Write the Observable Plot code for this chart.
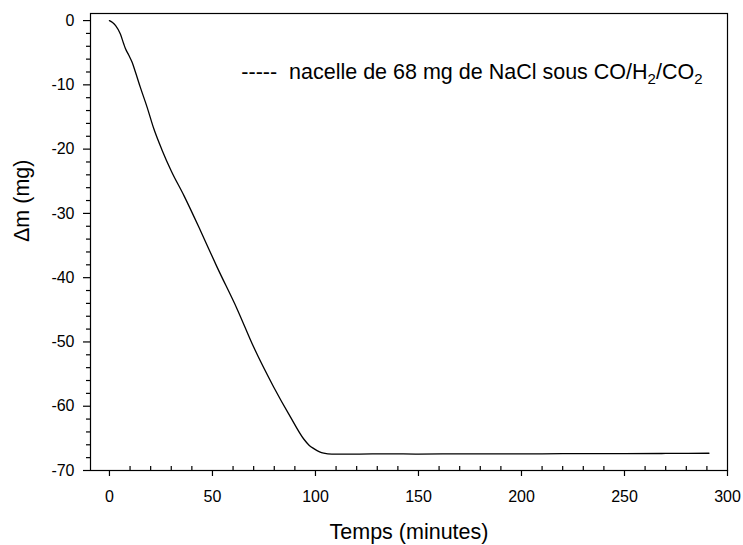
<!DOCTYPE html>
<html>
<head>
<meta charset="utf-8">
<script src="https://cdn.jsdelivr.net/npm/d3@7"></script>
<script src="https://cdn.jsdelivr.net/npm/@observablehq/plot@0.6"></script>
<style>
  html, body { margin: 0; padding: 0; background: white; }
</style>
</head>
<body>
<div id="chart"></div>
<script>
// ---- data ----
const minutes = [0, 1.5, 3, 5.3, 6.9, 7.8, 9.4, 11, 12.6, 15, 18.3, 21.5, 25.6, 30, 36.1, 44.2, 52.3, 62, 70, 79.7, 87.9, 94.3, 97, 99.2, 102, 104, 108, 112, 120, 135, 150, 170, 190, 210, 230, 250, 270, 291];
const deltaM  = [0, -0.3, -0.8, -2.1, -3.6, -4.4, -5.4, -6.5, -8.0, -10.4, -13.5, -16.8, -20.2, -23.4, -27.2, -32.7, -38.4, -44.9, -50.8, -57.0, -61.7, -65.1, -66.1, -66.6, -67.1, -67.3, -67.45, -67.45, -67.45, -67.4, -67.45, -67.4, -67.42, -67.4, -67.38, -67.36, -67.35, -67.32];

const xMajorTicks = [0, 50, 100, 150, 200, 250, 300];
const xMinorTicks = [10,20,30,40,60,70,80,90,110,120,130,140,160,170,180,190,210,220,230,240,260,270,280,290];
const yMajorTicks = [-70, -60, -50, -40, -30, -20, -10, 0];
const yMinorTicks = [-68,-66,-64,-62,-58,-56,-54,-52,-48,-46,-44,-42,-38,-36,-34,-32,-28,-26,-24,-22,-18,-16,-14,-12,-8,-6,-4,-2];

const xTitle = "Temps (minutes)";
const yTitle = "Δm (mg)";
const legendParts = [["-----\u00a0\u00a0nacelle de 68 mg de NaCl sous CO/H", false], ["2", true], ["/CO", false], ["2", true]];

const data = minutes.map((m, i) => ({minutes: m, dm: deltaM[i]}));

const W = 743, H = 545;
const mTop = 13, mRight = 16, mBottom = 75, mLeft = 90;
const frameH = H - mTop - mBottom;

const chart = Plot.plot({
  width: W,
  height: H,
  marginTop: mTop,
  marginRight: mRight,
  marginBottom: mBottom,
  marginLeft: mLeft,
  style: {fontFamily: "'Liberation Sans', Arial, Helvetica, sans-serif", fontSize: "16px", color: "black", background: "white"},
  x: {domain: [-9.2, 300], label: null},
  y: {domain: [-70, 1.1], label: null},
  marks: [
    Plot.frame({stroke: "black", strokeWidth: 1.2}),
    Plot.axisX({ticks: xMajorTicks, tickSize: 6, tickPadding: 14, fontSize: 16, label: null, tickFormat: d => String(d), stroke: "black", strokeWidth: 1.2}),
    Plot.tickX(xMinorTicks, {x: d => d, insetTop: frameH - 4, stroke: "black", strokeWidth: 1.2}),
    Plot.axisY({ticks: yMajorTicks, tickSize: 7, tickPadding: 9, fontSize: 16, label: null, tickFormat: d => String(d), stroke: "black", strokeWidth: 1.2}),
    Plot.axisY({ticks: yMinorTicks, tickSize: 4, label: null, tickFormat: () => "", stroke: "black", strokeWidth: 1.2}),
    Plot.line(data, {x: "minutes", y: "dm", stroke: "black", strokeWidth: 1.3, curve: "monotone-x"}),
    Plot.text([xTitle], {text: d => d, frameAnchor: "bottom", dy: 62, lineAnchor: "middle", fontSize: 21.5, fill: "black"}),
    Plot.text([yTitle], {text: d => d, frameAnchor: "left", dx: -68, rotate: -90, lineAnchor: "middle", fontSize: 21.5, fill: "black"}),
    Plot.text(["legend"], {text: d => legendParts.map(p => p[0]).join(""), frameAnchor: "top-right", dx: -25, dy: 59, textAnchor: "end", lineAnchor: "middle", fontSize: 21.5, fill: "black"})
  ]
});

// rich text (subscripts) for the legend
const legendEl = [...chart.querySelectorAll("text")].find(e => e.textContent.includes("nacelle"));
if (legendEl) {
  legendEl.textContent = "";
  let wasSub = false;
  for (const [txt, sub] of legendParts) {
    const ts = document.createElementNS("http://www.w3.org/2000/svg", "tspan");
    ts.textContent = txt;
    if (sub && !wasSub) ts.setAttribute("dy", "5");
    if (!sub && wasSub) ts.setAttribute("dy", "-5");
    if (sub) ts.setAttribute("font-size", "15");
    legendEl.appendChild(ts);
    wasSub = sub;
  }
}

document.getElementById("chart").appendChild(chart);
</script>
</body>
</html>
